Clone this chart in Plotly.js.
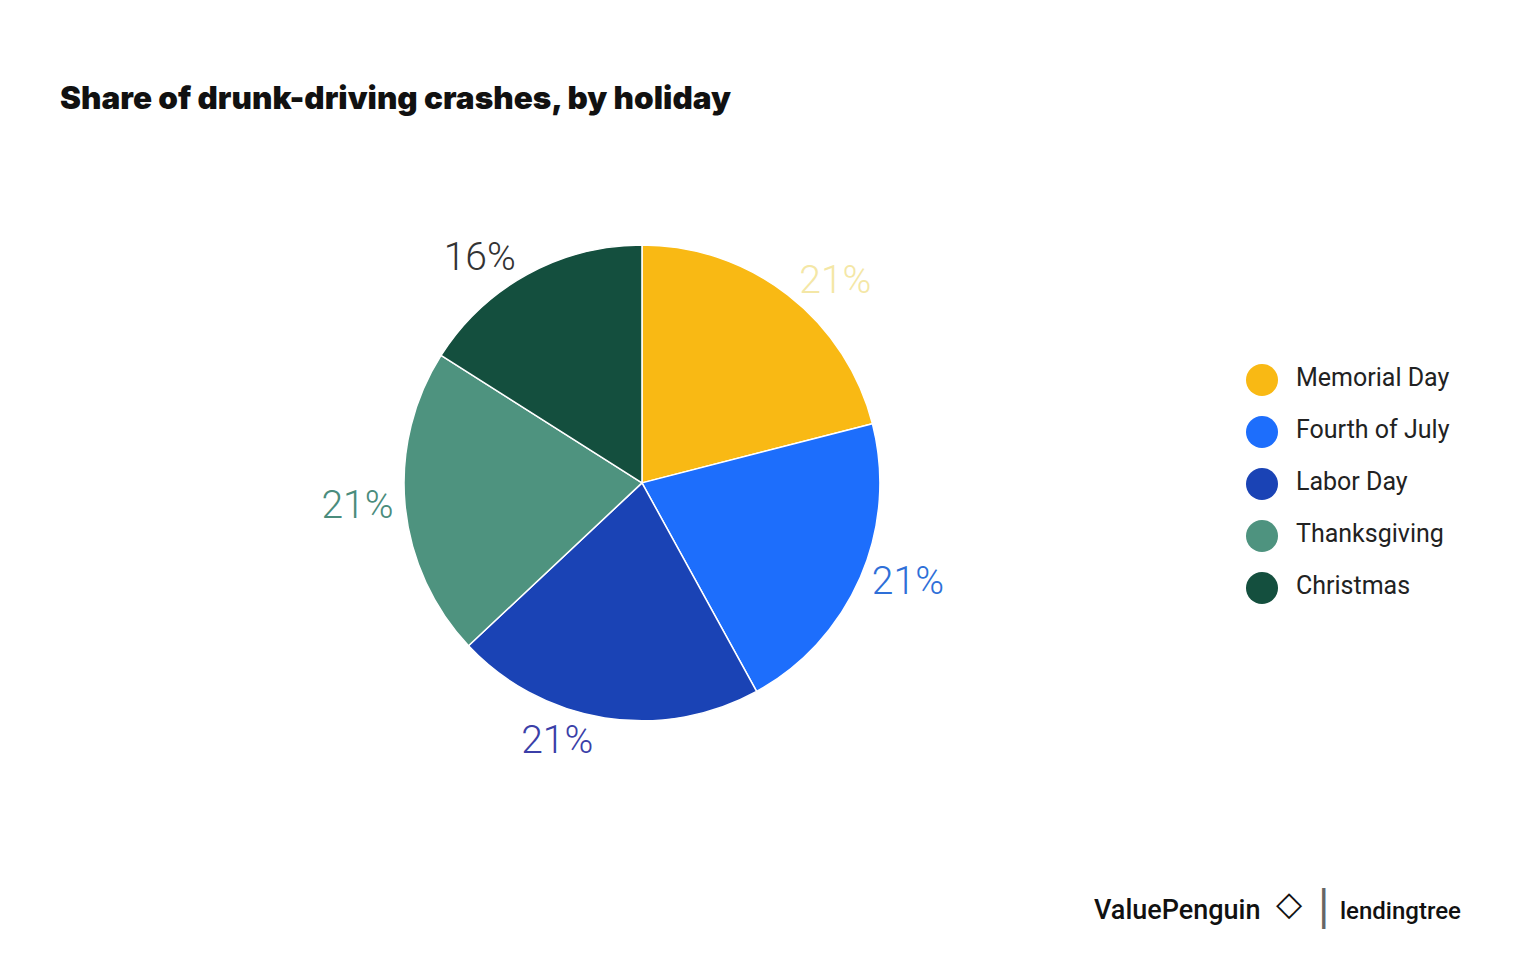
<!DOCTYPE html>
<html>
<head>
<meta charset="utf-8">
<script src="https://cdn.plot.ly/plotly-3.0.1.min.js"></script>
<style>html,body{margin:0;padding:0;background:#fff;}#chart{width:1520px;height:960px;}</style>
</head>
<body>
<div id="chart"></div>
<script>
const holidays = ["Memorial Day", "Fourth of July", "Labor Day", "Thanksgiving", "Christmas"];
const shares = [21, 21, 21, 21, 16];
const sliceColors = ["#F9B914", "#1D6EFC", "#1A43B5", "#4E937F", "#144F3E"];
const labelColors = ["#F4E7A6", "#2E6FD8", "#3B3FA8", "#4A8C7C", "#333333"];

const pie = {
  type: "pie",
  labels: holidays,
  values: shares,
  sort: false,
  direction: "clockwise",
  rotation: 0,
  marker: {colors: sliceColors, line: {color: "#ffffff", width: 1.5}},
  textinfo: "percent",
  texttemplate: "%{percent:.0%}",
  textposition: "outside",
  textfont: {family: "Roboto, sans-serif", size: 39, weight: 300, color: labelColors},
  hoverinfo: "label+percent",
  domain: {x: [0.2658, 0.5789], y: [0.249, 0.745]},
  showlegend: false
};

// legend built from the same categories: circle swatches + labels
const legendMarkers = {
  type: "scatter",
  mode: "markers",
  x: holidays.map(() => 0),
  y: holidays,
  marker: {color: sliceColors, size: 32, symbol: "circle"},
  cliponaxis: false,
  showlegend: false,
  hoverinfo: "skip"
};
const legendLabels = {
  type: "scatter",
  mode: "text",
  x: holidays.map(() => 1),
  y: holidays,
  text: holidays,
  textposition: "middle right",
  textfont: {family: "Roboto, sans-serif", size: 25, color: "#222"},
  cliponaxis: false,
  showlegend: false,
  hoverinfo: "skip"
};

const layout = {
  width: 1520, height: 960,
  margin: {l: 0, r: 0, t: 0, b: 0},
  paper_bgcolor: "#ffffff",
  plot_bgcolor: "rgba(0,0,0,0)",
  font: {family: "Roboto, sans-serif", color: "#222"},
  showlegend: false,
  title: {
    text: "Share of drunk-driving crashes, by holiday",
    font: {family: "Inter, Roboto, sans-serif", size: 31.5, weight: 900, color: "#111"},
    x: 60/1520, xanchor: "left", xref: "container",
    y: 1 - 98/960, yanchor: "middle", yref: "container"
  },
  xaxis: {visible: false, domain: [1228/1520, 1], range: [-1, 292/34 - 1], fixedrange: true},
  yaxis: {visible: false, type: "category", categoryarray: holidays, categoryorder: "array",
          range: [4.5, -0.5], domain: [1 - 614/960, 1 - 354/960], fixedrange: true},
  annotations: [
    {text: "ValuePenguin", xref: "paper", yref: "paper", x: 1263/1520, y: 1 - 910/960,
     xanchor: "right", yanchor: "middle", showarrow: false,
     font: {family: "Roboto, sans-serif", size: 27, weight: 500, color: "#111"}},
    {text: "◇", xref: "paper", yref: "paper", x: 1289/1520, y: 1 - 903/960,
     xanchor: "center", yanchor: "middle", showarrow: false,
     font: {family: "DejaVu Sans, sans-serif", size: 34, color: "#111"}},
    {text: "|", xref: "paper", yref: "paper", x: 1323/1520, y: 1 - 905/960,
     xanchor: "center", yanchor: "middle", showarrow: false,
     font: {family: "DejaVu Sans, sans-serif", size: 40, color: "#666"}},
    {text: "lendingtree", xref: "paper", yref: "paper", x: 1338/1520, y: 1 - 911/960,
     xanchor: "left", yanchor: "middle", showarrow: false,
     font: {family: "Roboto, sans-serif", size: 24, weight: 500, color: "#111"}}
  ]
};

Plotly.newPlot("chart", [pie, legendMarkers, legendLabels], layout, {displayModeBar: false, staticPlot: true});
</script>
</body>
</html>
